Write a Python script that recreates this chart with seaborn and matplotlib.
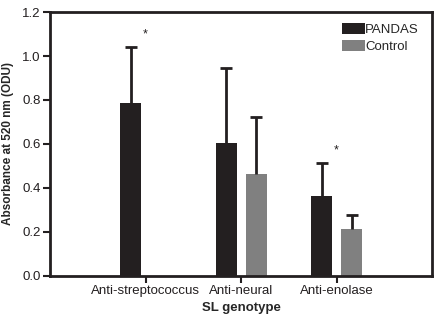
import numpy as np
import pandas as pd
import matplotlib
matplotlib.use('Agg')
import matplotlib.pyplot as plt
import seaborn as sns

categories = ['Anti-streptococcus', 'Anti-neural', 'Anti-enolase']
groups = ['PANDAS', 'Control']
pandas_mean = [0.785, 0.605, 0.363]
pandas_err = [0.258, 0.342, 0.152]
control_mean = [np.nan, 0.465, 0.214]
control_err = [np.nan, 0.259, 0.063]
star_labels = ['*', '', '*']
star_y = [1.10, np.nan, 0.57]

sns.set_theme(style='ticks')
plt.rcParams['font.family'] = ['Liberation Sans', 'DejaVu Sans']

df = pd.DataFrame({
    'genotype': categories * 2,
    'group': [groups[0]] * 3 + [groups[1]] * 3,
    'value': pandas_mean + control_mean,
})

fig = plt.figure(figsize=(4.4, 3.19), dpi=100)
ax = fig.add_axes([0.114, 0.136, 0.868, 0.826])
sns.barplot(data=df.dropna(), x='genotype', y='value', hue='group',
            order=categories, hue_order=groups,
            palette=['#231f20', '#808080'], saturation=1,
            width=0.63, gap=0.3, linewidth=0, errorbar=None, ax=ax)

# only the upper half of the error bars is drawn
errs = {'PANDAS': pandas_err, 'Control': control_err}
for cont, grp in zip(ax.containers, groups):
    for bar in cont:
        cx = bar.get_x() + bar.get_width() / 2
        i = int(round(cx))
        h = bar.get_height()
        _, caps, _ = ax.errorbar(cx, h, yerr=[[0], [errs[grp][i]]],
                                 fmt='none', ecolor='#231f20', elinewidth=2,
                                 capsize=4.5, capthick=2)
        for c in caps:
            if np.isclose(c.get_ydata()[0], h):
                c.set_visible(False)

for i, s in enumerate(star_labels):
    if s:
        ax.text(i, star_y[i], s, ha='center', va='center', fontsize=9,
                color='#231f20')

ax.set_xlim(-1, 3)
ax.set_ylim(0, 1.2)
ax.set_yticks(np.arange(0, 1.21, 0.2))
ax.set_yticklabels([f'{v:.1f}' for v in np.arange(0, 1.21, 0.2)])
for sp in ax.spines.values():
    sp.set_visible(True)
    sp.set_linewidth(2)
    sp.set_color('#231f20')
ax.tick_params(axis='both', direction='out', length=5, width=1.5,
               color='#231f20', labelsize=9.5, labelcolor='#231f20', pad=2)

ax.set_xlabel('SL genotype', fontsize=9.5, fontweight='bold', labelpad=3)
ax.set_ylabel('Absorbance at 520 nm (ODU)', fontsize=8.5, fontweight='bold',
              labelpad=6)

ax.legend(loc='upper right', bbox_to_anchor=(0.99, 0.995), frameon=False,
          fontsize=9.5, handlelength=1.7, handleheight=0.9,
          handletextpad=0.05, labelspacing=0.3, borderaxespad=0.3)

plt.savefig('out.png', dpi=100)
